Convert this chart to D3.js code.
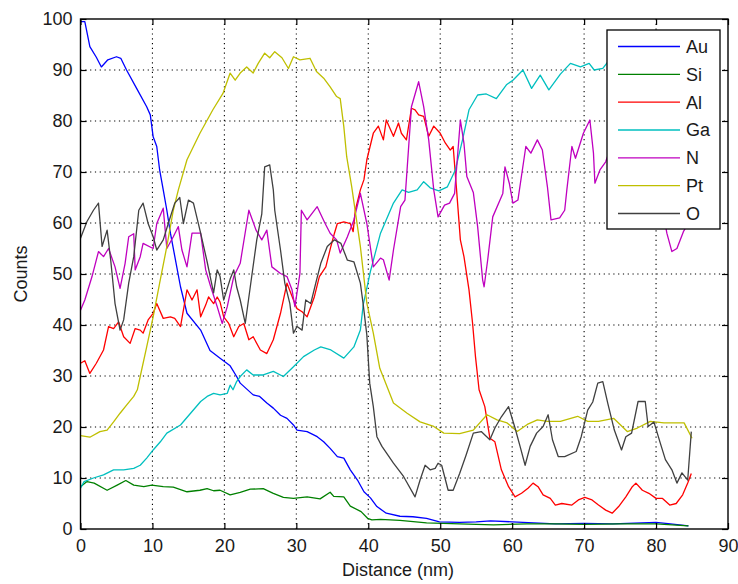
<!DOCTYPE html>
<html>
<head>
<meta charset="utf-8">
<script src="https://cdn.jsdelivr.net/npm/d3@7"></script>
<style>
  html, body { margin: 0; padding: 0; background: #fff; }
  svg { display: block; font-family: "Liberation Sans", Arial, sans-serif; }
</style>
</head>
<body>
<svg id="chart" width="738" height="584"></svg>
<script>
// Element line-scan profile: counts vs. distance (nm), one [distance, counts] pair per sample.
const elements = ["Au", "Si", "Al", "Ga", "N", "Pt", "O"];
const colors = ["#0000ff", "#008000", "#ff0000", "#00bfbf", "#bf00bf", "#bfbf00", "#404040"];

const xTicks = [0, 10, 20, 30, 40, 50, 60, 70, 80, 90];
const yTicks = [0, 10, 20, 30, 40, 50, 60, 70, 80, 90, 100];

const au = [[0,99.5],[0.6,99.5],[1.3,94.6],[2.2,92.5],[2.9,90.6],[3.8,92],[5,92.6],[5.6,92.3],[6.4,90],[7.8,86.4],[9.2,82.8],[9.7,81.2],[10.1,76.9],[10.6,75],[11,70.4],[11.5,66.5],[12,62.5],[12.5,58],[13.9,47.5],[14.8,42.3],[16.7,39],[18,35],[19.4,33.5],[20.8,32],[21.7,29.9],[22.2,28.6],[24,26.3],[24.9,26],[25.9,24.7],[26.8,23.7],[27.8,22.3],[28.7,21.7],[29.6,20.4],[30.1,19.4],[31.5,19.1],[32.9,18.1],[33.8,17.1],[34.7,15.8],[35.7,14.2],[36.6,13.9],[37.5,11.6],[38.5,9.6],[39.4,7.3],[40.3,6.1],[41.2,4.4],[42.5,3.1],[44.4,2.5],[46.2,2.4],[48.1,2.1],[49.9,1.4],[52.7,1.3],[55,1.4],[57,1.6],[60,1.4],[63,1.2],[66,1.0],[70,1.1],[74,1.0],[78,1.2],[80,1.3],[82,1.0],[84.5,0.6]];

const si = [[0,8.3],[0.9,9.3],[1.9,9],[3.7,7.6],[5.1,8.6],[6.3,9.5],[7.4,8.6],[8.8,8.3],[9.9,8.6],[11.5,8.3],[12.9,8.2],[14.8,7.3],[16.6,7.6],[17.6,7.9],[18.5,7.5],[19.4,7.6],[20.8,6.7],[22.2,7.2],[23.6,7.8],[25.4,7.9],[26.8,7.0],[28.2,6.2],[29.6,6.0],[31.5,6.3],[33.3,5.9],[34.7,7.2],[35.2,6.4],[36.6,6.3],[37.5,4.5],[39,3.4],[39.9,2.1],[40.5,1.8],[41.7,1.9],[44.4,1.7],[48.1,1.2],[52.7,1.0],[57.4,0.8],[62,1.0],[66,1.0],[70,0.9],[75,1.0],[80,1.0],[84.5,0.6]];

const al = [[0,32.5],[0.6,33],[1.3,30.5],[2.2,32.5],[3.2,35.1],[3.9,39.7],[4.6,39.3],[5.3,40.6],[6,37.7],[6.9,36.4],[7.6,39.3],[8.3,39],[8.7,38.4],[9.4,41],[10.1,42.3],[10.6,44.2],[11.5,41.3],[12.5,41.6],[13.1,41.3],[13.9,39.7],[14.8,46.9],[15.5,44.9],[16.2,46.9],[16.7,41.6],[17.4,43.9],[17.8,45.5],[18.5,44.2],[19,45.5],[19.4,44.5],[19.9,41.6],[20.6,40.3],[21.3,37.7],[22,39.7],[22.7,40.3],[23.4,37.1],[24,37.7],[25,35.1],[25.9,34.4],[26.8,37.1],[27.8,42.3],[28.7,48.2],[29.6,44.9],[30.1,43.2],[30.8,42.6],[31.5,41.6],[32.5,45.5],[33.2,49.5],[34.1,51.4],[34.8,55.4],[35.3,58],[35.7,59.9],[36.6,60.2],[37.5,59.9],[37.9,58.3],[38.2,62.5],[38.9,66.5],[39.4,68.5],[39.8,72.4],[40.7,77.6],[41.4,79],[42.1,76.3],[42.5,80.2],[43.5,77],[44.2,79.6],[44.6,77.6],[45.3,76.3],[46,82.5],[46.5,82.2],[47,81.2],[47.7,80.9],[48.4,77],[49.1,79],[50,77.6],[50.7,75.7],[51.4,74.3],[51.8,75],[52.3,66],[52.8,56.7],[53.3,53.4],[54,46.9],[54.5,40.3],[54.9,33.8],[55.4,27.3],[56.2,24],[56.9,17.8],[57.6,17.1],[58.5,11.6],[59.5,8.3],[60.4,6.3],[61.3,7],[62.2,8],[62.9,9],[63.6,8.3],[64.3,6.7],[65.3,6],[66,4.7],[66.9,5],[68.3,4.7],[69.2,5.7],[70.1,6.2],[71.1,5.7],[72,4.7],[73,3.7],[73.9,3.1],[74.8,4.4],[75.8,6.3],[76.7,8.3],[77.2,9],[78.1,7.6],[79,7],[80,6],[80.9,6],[81.9,4.7],[82.8,5],[83.7,6.7],[84.4,9],[84.9,10.9]];

const ga = [[0,8],[0.5,9.3],[1.8,10],[3.2,10.6],[4.6,11.6],[6,11.6],[7.4,11.9],[8.3,12.5],[9.2,13.9],[10.1,15.5],[11.1,17.1],[12,18.8],[13.9,20.4],[15.3,22.7],[16.7,25],[17.6,26],[18.5,26.6],[19.4,26.3],[20.4,26.6],[20.8,28.2],[21.2,27.3],[21.7,28.9],[22.2,29.9],[23.1,31.2],[24,30.2],[25.4,30.2],[26.8,30.9],[28.2,29.9],[29.6,31.8],[31,33.8],[32.5,35.1],[33.4,35.7],[34.8,35.1],[36.6,33.5],[38,35.7],[38.9,39],[39.3,44],[40.3,50.5],[41.7,58],[43.5,63.9],[44.7,66.5],[45.6,66],[46.8,66.5],[47.7,68.1],[48.6,66.9],[49.8,66.3],[51,67.1],[52.1,70.4],[53.1,76.3],[54,82.2],[55.2,85.1],[56.4,85.3],[57.8,84.4],[59.2,87.1],[60.1,88],[61.5,90],[62.7,86.4],[63.9,89],[65.1,86.1],[66.7,89.2],[68.1,91.3],[69.5,90.6],[70.7,91.3],[71.4,90],[72.6,90.3],[73.3,91.6],[75,92],[78,91.5],[81,92.5],[84.5,92]];

const n = [[0,42.9],[0.6,44.9],[1.6,49.5],[2.5,54.4],[3.2,53.4],[3.9,55],[4.8,51.4],[5.5,47.2],[6.2,52.1],[6.7,57.3],[7.4,57.9],[7.6,50.8],[8.3,53.4],[8.7,56],[10.1,55],[10.6,59.9],[11.5,62.9],[12,55],[12.9,57.3],[13.6,59.3],[14.1,54.7],[14.8,51.4],[15.5,58],[16.7,58],[17.4,50.8],[18.1,47.5],[19,43.6],[19.7,40.3],[20.4,43.6],[21.3,49.5],[22.2,52.1],[23.4,62.5],[24.4,58.6],[25.2,56.7],[25.9,58.6],[26.6,51.4],[27.8,50.1],[28.7,49.5],[29.4,46.9],[29.8,43.6],[30.5,50.1],[30.7,62.5],[31.5,60.6],[32.9,63.2],[34,59.9],[34.7,58],[35.6,56.7],[36.1,54.1],[37.1,57.3],[38,60.6],[38.9,65.8],[39.8,59.9],[40.7,51.4],[41.7,53.1],[42.1,52.8],[42.9,48.8],[43.5,54.7],[44.5,63.2],[45.1,64.5],[46,82.8],[47,87.7],[47.7,82.8],[48.4,76.3],[49.1,66.5],[49.7,61.2],[50.6,63.5],[51.3,63.9],[52,65.8],[52.8,80.2],[53.3,75.6],[53.7,69.1],[54.6,66],[55.2,59.3],[55.9,48.8],[56.1,47.5],[56.6,52.8],[57.3,61.2],[58.7,65.8],[59,71],[59.6,67.8],[60.1,63.9],[60.8,64.5],[61.9,75],[62.6,73.7],[63.5,76.3],[64.2,74.3],[64.9,67.1],[65.4,60.6],[66.6,61],[67.3,62.5],[67.6,66.5],[68.3,75],[68.8,72.7],[69.9,77.6],[70.8,80.2],[71.3,73.7],[71.5,67.8],[72.2,70.4],[73,72],[74,76],[75,70],[76,74],[77,68],[78,72],[79,66],[80,68],[81,62],[81.5,58],[82.2,54.4],[82.9,55],[83.8,58.3],[84.5,60]];

const pt = [[0,18.3],[1.3,18],[2.7,19.1],[3.7,19.4],[4.6,21],[5.5,22.7],[6.4,24.3],[7.4,26],[7.9,27.3],[8.3,29.9],[9.2,35.7],[10.1,41.6],[11,48.2],[12,55.4],[12.9,62.5],[13.6,66.5],[14.8,72.4],[16.6,77.6],[18.4,82.2],[19.8,85.4],[20.8,89.4],[21.5,88],[22.2,89.4],[23.1,90.6],[24,89.4],[24.7,91.3],[25.6,93.3],[26.3,92.4],[27,93.6],[28,92.4],[28.9,90.3],[29.6,92.6],[30.5,92],[31.9,92.3],[32.8,89.7],[33.8,88.4],[34.7,86.7],[35.6,84.8],[36.1,84.4],[36.6,78.9],[37,73],[37.7,67.1],[38.9,55.4],[39.8,44.3],[40.7,38.4],[41.6,31.5],[42.3,29],[43.5,24.7],[45.4,22.7],[47.2,21],[49.1,20.1],[50.5,18.8],[52.7,18.7],[54.6,19.4],[56.5,22.4],[57.9,21.4],[59.3,20.8],[60.7,19.1],[62.1,20.5],[63.5,21.4],[64.9,21.1],[66.7,21.1],[69.1,22.1],[70.5,21.1],[72,21.1],[74.1,21.7],[76,19.1],[77.4,19.8],[79.2,21.1],[81.1,20.8],[83.9,20.8],[85,17.8]];

const o = [[0,57],[0.9,60.3],[1.8,62.5],[2.5,63.9],[3,55.4],[3.7,58.6],[4.2,52.7],[4.8,44.2],[5.5,39],[6,41],[6.7,48.2],[7.4,53.4],[8.1,62.5],[8.7,63.9],[9.4,59.9],[10.1,57.3],[10.6,54.7],[11.5,56.7],[12.2,59.9],[13.1,63.9],[13.8,65],[14.3,59.9],[15,64.5],[15.7,63.9],[16.7,58],[17.6,52.4],[18.1,49],[18.5,46.3],[19,50.8],[19.4,49.5],[19.9,44.9],[20.8,49],[21.3,50.8],[21.7,47.5],[22.2,44.9],[22.9,40.3],[23.6,47.5],[24.5,56.7],[25.2,61.8],[25.6,71],[26.3,71.4],[26.8,66.5],[27,62.5],[27.8,54.7],[28.4,48.2],[29.1,44.2],[29.6,38.4],[30.1,39.7],[30.8,39],[31.3,44.9],[32,44.2],[32.7,48.2],[33.4,52.1],[34.3,55.4],[35.3,56.7],[36.2,56],[37.1,52.7],[38,52.4],[38.9,48.2],[39.3,44],[39.8,38],[40.2,28.6],[40.7,24],[41.2,18.1],[41.9,16.2],[43.5,12.9],[44.9,10.3],[46.5,6.3],[47.2,9.6],[47.9,12.5],[48.6,11.6],[49.3,11.9],[49.7,12.9],[50.2,12.5],[51.1,7.6],[51.8,7.6],[52.7,10.9],[53.6,14.5],[54.6,18.8],[55.7,19.1],[56.9,17.5],[57.6,19.8],[58.5,22],[59.5,24],[60.4,19.8],[61.1,16.2],[61.8,12.5],[62.5,16.2],[63.4,18.8],[64.3,20.1],[65,22.4],[65.6,17.5],[66.4,14.2],[67.3,14.2],[68.9,15.2],[69.6,18.1],[70.5,23.3],[71.2,24.9],[71.9,28.6],[72.6,28.9],[73.3,24.6],[74.2,19.4],[75.2,15.5],[75.8,18.1],[76.6,18.8],[77.5,25],[78.5,25],[78.9,20.1],[79.7,21],[80.6,16.8],[81.3,13.6],[82.2,11.6],[82.9,9],[83.6,11],[84.4,9.6],[84.9,19.1]];

const seriesValues = [au, si, al, ga, n, pt, o];

// Layout
const plot = { left: 80.5, right: 728, top: 19, bottom: 529 };
const svg = d3.select("#chart");
const textColor = "#1a1a1a";

const x = d3.scaleLinear().domain([0, 90]).range([plot.left, plot.right]);
const y = d3.scaleLinear().domain([0, 100]).range([plot.bottom, plot.top]);

// Dotted grid
const grid = svg.append("g").attr("stroke", "#000").attr("stroke-width", 1.1)
  .attr("stroke-dasharray", "1.2,3.6");
grid.selectAll("line.gx").data(xTicks.filter(t => t > 0 && t < 90)).join("line")
  .attr("x1", d => x(d)).attr("x2", d => x(d))
  .attr("y1", plot.top).attr("y2", plot.bottom);
grid.selectAll("line.gy").data(yTicks.filter(t => t > 0 && t < 100)).join("line")
  .attr("x1", plot.left).attr("x2", plot.right)
  .attr("y1", d => y(d)).attr("y2", d => y(d));

// Series lines
const line = d3.line().x(d => x(d[0])).y(d => y(d[1]));
svg.append("g").selectAll("path").data(seriesValues).join("path")
  .attr("d", d => line(d))
  .attr("fill", "none")
  .attr("stroke", (d, i) => colors[i])
  .attr("stroke-width", 1.3)
  .attr("stroke-linejoin", "round");

// Axes with inward ticks (box on all four sides)
const tickLen = 6;
const axBottom = svg.append("g").attr("transform", `translate(0,${plot.bottom})`)
  .call(d3.axisBottom(x).tickValues(xTicks).tickSizeInner(-tickLen).tickSizeOuter(0).tickPadding(10));
const axLeft = svg.append("g").attr("transform", `translate(${plot.left},0)`)
  .call(d3.axisLeft(y).tickValues(yTicks).tickSizeInner(-tickLen).tickSizeOuter(0).tickPadding(8));
const axTop = svg.append("g").attr("transform", `translate(0,${plot.top})`)
  .call(d3.axisTop(x).tickValues(xTicks).tickSizeInner(-tickLen).tickSizeOuter(0).tickFormat(""));
const axRight = svg.append("g").attr("transform", `translate(${plot.right},0)`)
  .call(d3.axisRight(y).tickValues(yTicks).tickSizeInner(-tickLen).tickSizeOuter(0).tickFormat(""));

[axBottom, axLeft, axTop, axRight].forEach(g => {
  g.select(".domain").remove();
  g.selectAll(".tick line").attr("stroke", "#000").attr("stroke-width", 1.2);
  g.selectAll("text").attr("fill", textColor).style("font-size", "18px")
    .style("font-family", "'Liberation Sans', Arial, sans-serif");
});
axBottom.selectAll("text").attr("dy", "0.71em");

// Axes box
svg.append("rect")
  .attr("x", plot.left).attr("y", plot.top)
  .attr("width", plot.right - plot.left).attr("height", plot.bottom - plot.top)
  .attr("fill", "none").attr("stroke", "#000").attr("stroke-width", 1.4);

// Axis titles
svg.append("text")
  .attr("x", 398).attr("y", 576)
  .attr("text-anchor", "middle").attr("fill", textColor)
  .style("font-size", "18px")
  .text("Distance (nm)");
svg.append("text")
  .attr("transform", `translate(27,${(plot.top + plot.bottom) / 2}) rotate(-90)`)
  .attr("text-anchor", "middle").attr("fill", textColor)
  .style("font-size", "18px")
  .text("Counts");

// Legend
const legend = svg.append("g");
legend.append("rect")
  .attr("x", 607).attr("y", 30).attr("width", 113).attr("height", 199)
  .attr("fill", "#fff").attr("stroke", "#000").attr("stroke-width", 1.3);
const rowY = d3.scalePoint().domain(elements).range([46.5, 213.5]);
const rows = legend.selectAll("g.row").data(elements).join("g")
  .attr("transform", d => `translate(0,${rowY(d)})`);
rows.append("line")
  .attr("x1", 618).attr("x2", 680).attr("y1", 0).attr("y2", 0)
  .attr("stroke", (d, i) => colors[i]).attr("stroke-width", 1.3);
rows.append("text")
  .attr("x", 686).attr("y", 0).attr("dy", "0.36em")
  .attr("fill", textColor).style("font-size", "18px")
  .text(d => d);
</script>
</body>
</html>
